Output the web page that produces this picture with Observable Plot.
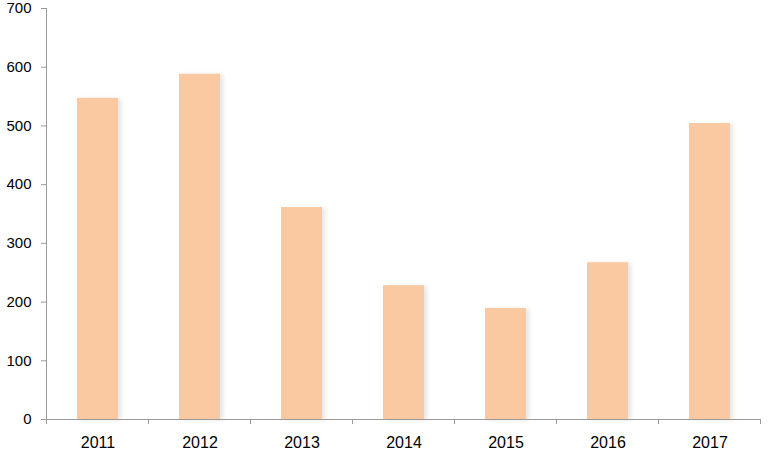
<!DOCTYPE html>
<html>
<head>
<meta charset="utf-8">
<script src="https://cdn.jsdelivr.net/npm/d3@7"></script>
<script src="https://cdn.jsdelivr.net/npm/@observablehq/plot@0.6"></script>
<style>
  html, body { margin: 0; padding: 0; background: #fff; }
  svg { display: block; }
</style>
</head>
<body>
<div id="chart"></div>
<script>
const years = ["2011", "2012", "2013", "2014", "2015", "2016", "2017"];
const values = [547, 588, 361, 228, 189, 267, 504];
const yTicks = [0, 100, 200, 300, 400, 500, 600, 700];

const data = years.map((y, i) => ({year: y, value: values[i]}));

const axisColor = "#9a9a9a";

// tick marks at the band boundaries, drawn from the band scale
function boundaryTicks(index, scales, values, dims) {
  const x = scales.x;
  const bw = x.bandwidth();
  const step = x.step();
  const g = d3.create("svg:g");
  const y0 = dims.height - dims.marginBottom;
  const xs = [x(years[0]) - (step - bw) / 2, ...years.map(d => x(d) + bw + (step - bw) / 2)];
  for (const xv of xs) {
    g.append("line")
      .attr("x1", xv).attr("x2", xv)
      .attr("y1", y0).attr("y2", y0 + 5)
      .attr("stroke", axisColor);
  }
  return g.node();
}

const chart = Plot.plot({
  width: 768,
  height: 458,
  marginLeft: 46,
  marginRight: 8,
  marginTop: 8,
  marginBottom: 39,
  style: {fontFamily: "'Liberation Sans', Arial, sans-serif", fontSize: "15px", color: "#000", background: "#fff"},
  x: {domain: years, paddingInner: 0.6, paddingOuter: 0.3, label: null},
  y: {domain: [0, 700], label: null},
  marks: [
    Plot.barY(data, {
      x: "year", y: "value", fill: "#fac8a1",
      imageFilter: "drop-shadow(3px 1px 2px rgba(0,0,0,0.10))"
    }),
    Plot.axisY({ticks: yTicks, tickSize: 5, tickPadding: 10, stroke: axisColor, fill: "#000", fontSize: 15, label: null}),
    Plot.frame({anchor: "left", stroke: axisColor}),
    Plot.ruleY([0], {stroke: axisColor}),
    Plot.axisX({tickSize: 0, tickPadding: 17, fill: "#000", fontSize: 16, label: null}),
    boundaryTicks
  ]
});

document.getElementById("chart").appendChild(chart);
</script>
</body>
</html>
